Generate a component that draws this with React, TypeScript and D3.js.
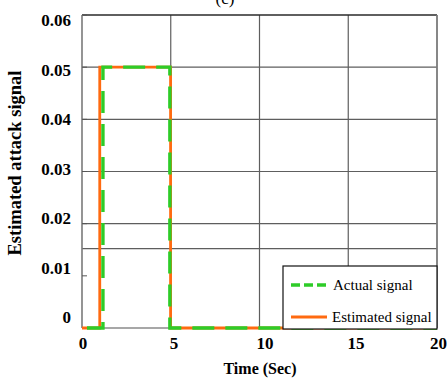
import React from "react";
import * as d3 from "d3";

const timeTicks = [0, 5, 10, 15, 20];
const valueTicks = [0, 0.01, 0.02, 0.03, 0.04, 0.05, 0.06];
const valueTickLabels = ["0", "0.01", "0.02", "0.03", "0.04", "0.05", "0.06"];
const gridValues = [0.02, 0.03, 0.04, 0.05];
const extraLineValue = 0.0152;

const actualTime = [0, 1.18, 1.18, 4.95, 4.95, 20];
const actualValue = [0, 0, 0.05, 0.05, 0, 0];
const estimatedTime = [0, 1.0, 1.0, 4.99, 4.99, 20];
const estimatedValue = [0, 0, 0.05, 0.05, 0, 0];

const W = 447;
const H = 381;
const L = 82, R = 437, T = 15, B = 328;

export default function App() {
  const x = d3.scaleLinear().domain([0, 20]).range([L, R]);
  const y = d3.scaleLinear().domain([0, 0.06]).range([B, T]);
  const xLab = d3.scaleLinear().domain([0, 20]).range([83, 447]);
  const yLab = d3.scaleLinear().domain([0, 0.06]).range([317, 20]);

  const line = d3
    .line<[number, number]>()
    .x((d) => x(d[0]))
    .y((d) => y(d[1]));
  const actualPts = actualTime.map((t, i) => [t, actualValue[i]] as [number, number]);
  const estPts = estimatedTime.map((t, i) => [t, estimatedValue[i]] as [number, number]);

  const serif = "'Liberation Serif', 'Times New Roman', serif";
  const grid = "#5e5e5e";
  const lastT = timeTicks[timeTicks.length - 1];

  return (
    <div style={{ position: "absolute", left: 0, top: 0 }}>
      <svg width={W} height={H} style={{ display: "block", background: "#fff" }}>
        <text x={225} y={4} textAnchor="middle" fontFamily={serif} fontSize={17}>(c)</text>
        {/* grid */}
        {timeTicks.slice(1, -1).map((t) => (
          <line key={"vx" + t} x1={x(t)} x2={x(t)} y1={T} y2={B} stroke={grid} strokeWidth={1.2} />
        ))}
        {gridValues.map((v) => (
          <line key={"hy" + v} x1={L} x2={R} y1={y(v)} y2={y(v)} stroke={grid} strokeWidth={1.2} />
        ))}
        <line x1={L} x2={R} y1={y(extraLineValue)} y2={y(extraLineValue)} stroke={grid} strokeWidth={1.2} />
        {/* axes frame */}
        <line x1={L} x2={R} y1={T} y2={T} stroke="#2a2a2a" strokeWidth={1.6} />
        <line x1={R} x2={R} y1={T} y2={B} stroke="#7a7a7a" strokeWidth={1.8} />
        <line x1={L} x2={L} y1={T} y2={B} stroke="#7a7a7a" strokeWidth={1.6} />
        <line x1={L} x2={R} y1={B} y2={B} stroke="#8a8a8a" strokeWidth={1.6} />
        {valueTicks.map((v) => (
          <line key={"tk" + v} x1={L} x2={L + 5} y1={y(v)} y2={y(v)} stroke="#555" strokeWidth={1} />
        ))}
        {/* series */}
        <path d={line(estPts) || ""} fill="none" stroke="#ff6a10" strokeWidth={2.8} />
        <path d={line(actualPts) || ""} fill="none" stroke="#2ecc28" strokeWidth={3.4} strokeDasharray="22 11" strokeDashoffset={-5} />
        {/* tick labels */}
        {valueTicks.map((v, i) => (
          <text key={"yl" + v} x={71} y={yLab(v) + 6} textAnchor="end" fontFamily={serif} fontWeight="bold" fontSize={17}>
            {valueTickLabels[i]}
          </text>
        ))}
        {timeTicks.map((t) => (
          <text
            key={"xl" + t}
            x={t === lastT ? W : xLab(t)}
            y={349}
            textAnchor={t === lastT ? "end" : "middle"}
            fontFamily={serif}
            fontWeight="bold"
            fontSize={17}
          >
            {t}
          </text>
        ))}
        <text x={260} y={374} textAnchor="middle" fontFamily={serif} fontWeight="bold" fontSize={16}>Time (Sec)</text>
        <text transform="translate(21,163) rotate(-90)" textAnchor="middle" fontFamily={serif} fontWeight="bold" fontSize={18.5}>
          Estimated attack signal
        </text>
        {/* legend */}
        <rect x={283} y={266} width={154} height={63} fill="#fff" stroke="#111" strokeWidth={1.2} />
        <line x1={291} x2={327} y1={285} y2={285} stroke="#2ecc28" strokeWidth={3.4} strokeDasharray="9 4" />
        <line x1={291} x2={327} y1={317} y2={317} stroke="#ff6a10" strokeWidth={2.8} />
        <text x={333} y={290} fontFamily={serif} fontSize={15}>Actual signal</text>
        <text x={332} y={322} fontFamily={serif} fontSize={15}>Estimated signal</text>
      </svg>
    </div>
  );
}
